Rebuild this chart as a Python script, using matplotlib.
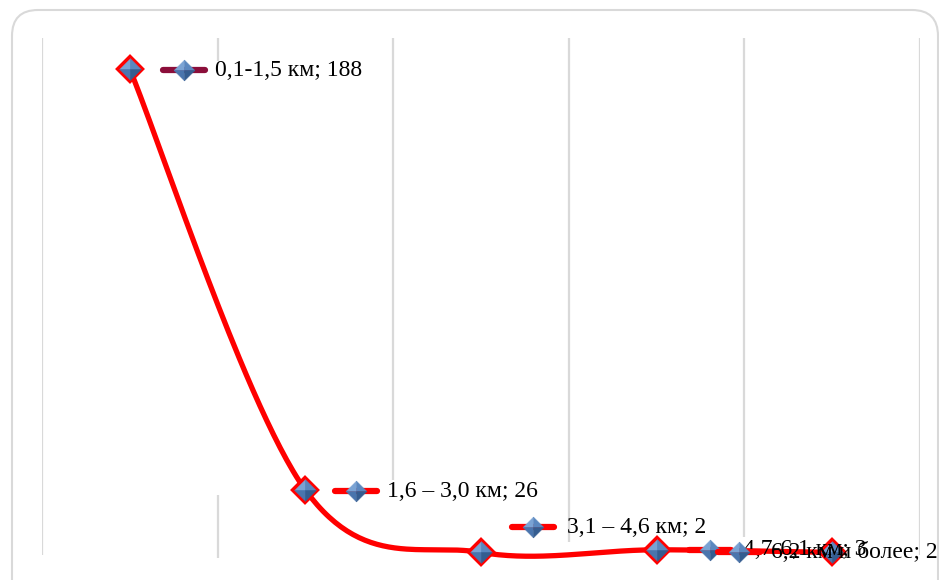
import matplotlib
matplotlib.use("Agg")
import matplotlib.pyplot as plt
import matplotlib.transforms as mtransforms
from matplotlib.patches import FancyBboxPatch
from matplotlib.path import Path
import numpy as np

# ── data ──────────────────────────────────────────────────────────────────
categories = ["0,1-1,5 км", "1,6 – 3,0 км", "3,1 – 4,6 км", "4,7-6,1 км", "6,2 км и более"]
values = [188, 26, 2, 3, 2]

plt.rcParams["font.family"] = ["Liberation Serif", "DejaVu Serif"]

W, H = 939, 580
fig = plt.figure(figsize=(W / 100, H / 100), dpi=100)
fig.patch.set_facecolor("white")

# ── outer rounded frame (pixel space) ─────────────────────────────────────
bg = fig.add_axes([0, 0, 1, 1])
bg.set_xlim(0, W)
bg.set_ylim(H, 0)
bg.axis("off")
bg.add_patch(FancyBboxPatch((12, 10), 926, 620,
                            boxstyle="round,pad=0,rounding_size=26",
                            linewidth=1.5, edgecolor="#d9d9d9", facecolor="white"))

# ── plot area ─────────────────────────────────────────────────────────────
left, right, top, bottom = 42, 920, 38, 557.6
ax = fig.add_axes([left / W, 1 - bottom / H, (right - left) / W, (bottom - top) / H])
ax.set_xlim(-0.5, len(categories) - 0.5)
ax.set_ylim(0, 200)
ax.axis("off")

# vertical gridlines at category boundaries (parts hidden behind label boxes)
grid_spans = [
    [(1, 200)],
    [(0, 24), (191, 200)],
    [(30, 200)],
    [(6, 200)],
    [(8, 200)],
    [(1, 200)],
]
for i, spans in enumerate(grid_spans):
    for lo, hi in spans:
        ax.vlines(i - 0.5, lo, hi, color="#d9d9d9", lw=1.6, zorder=1)

# ── smoothed line (Excel-like Catmull-Rom bezier) ─────────────────────────
x = np.arange(len(values), dtype=float)
y = np.array(values, dtype=float)
px = np.concatenate([[x[0]], x, [x[-1]]])
py = np.concatenate([[y[0]], y, [y[-1]]])
t = np.linspace(0, 1, 60)
cx, cy = [], []
for k in range(1, len(px) - 2):
    p0 = np.array([px[k], py[k]])
    p3 = np.array([px[k + 1], py[k + 1]])
    p1 = p0 + (p3 - np.array([px[k - 1], py[k - 1]])) / 6
    p2 = p3 - (np.array([px[k + 2], py[k + 2]]) - p0) / 6
    b = ((1 - t) ** 3)[:, None] * p0 + (3 * (1 - t) ** 2 * t)[:, None] * p1 \
        + (3 * (1 - t) * t ** 2)[:, None] * p2 + (t ** 3)[:, None] * p3
    cx.extend(b[:, 0])
    cy.extend(b[:, 1])
ax.plot(cx, cy, color="#ff0000", lw=3.8, solid_capstyle="round", zorder=3,
        clip_on=False)

# ── faceted "pyramid" diamond markers ─────────────────────────────────────
facets = [
    (Path([(0, 0), (-1, 0), (0, 1), (0, 0)]), "#7aa3d4"),   # top-left
    (Path([(0, 0), (0, 1), (1, 0), (0, 0)]), "#5a87bf"),    # top-right
    (Path([(0, 0), (-1, 0), (0, -1), (0, 0)]), "#4a75ad"),  # bottom-left
    (Path([(0, 0), (0, -1), (1, 0), (0, 0)]), "#355d90"),   # bottom-right
]


def gem(xs, ys, size, transform, z):
    for path, col in facets:
        ax.plot(xs, ys, ls="none", marker=path, ms=size, mfc=col, mec=col,
                mew=0.3, transform=transform, zorder=z, clip_on=False)


ax.plot(x, y, ls="none", marker="D", ms=12.5, mfc="#4a78b3", mec="#ff0000",
        mew=3.0, zorder=4, clip_on=False)
gem(x, y, 15.5, ax.transData, 4.5)

# ── data labels with legend key ───────────────────────────────────────────
key_colors = ["#8b0e3a", "#ff0000", "#ff0000", "#ff0000", "#ff0000"]
# (key centre dx, dy, text dx) in pixels
label_pos = [(54, -1, 85), (51, -1, 82), (52, 25, 86), (53, 0, 86), (-93, 0, -61)]
step = (right - left) / len(categories)
for i, (cat, v) in enumerate(zip(categories, values)):
    kdx, dy, tdx = label_pos[i]
    z = 5 + i
    seg = mtransforms.offset_copy(ax.transData, fig, x=0, y=dy, units="dots")
    ax.plot([i + (kdx - 21) / step, i + (kdx + 21) / step], [v, v], color=key_colors[i],
            lw=4.5, solid_capstyle="round", transform=seg, zorder=z, clip_on=False)
    gem([i + kdx / step], [v], 15, seg, z + 0.1)
    ax.annotate(f"{cat}; {v}", xy=(i, v), xytext=(tdx, dy), textcoords="offset pixels",
                ha="left", va="center", fontsize=17, color="black", zorder=z + 0.2,
                annotation_clip=False)

fig.savefig("out.png", dpi=100, facecolor="white")
